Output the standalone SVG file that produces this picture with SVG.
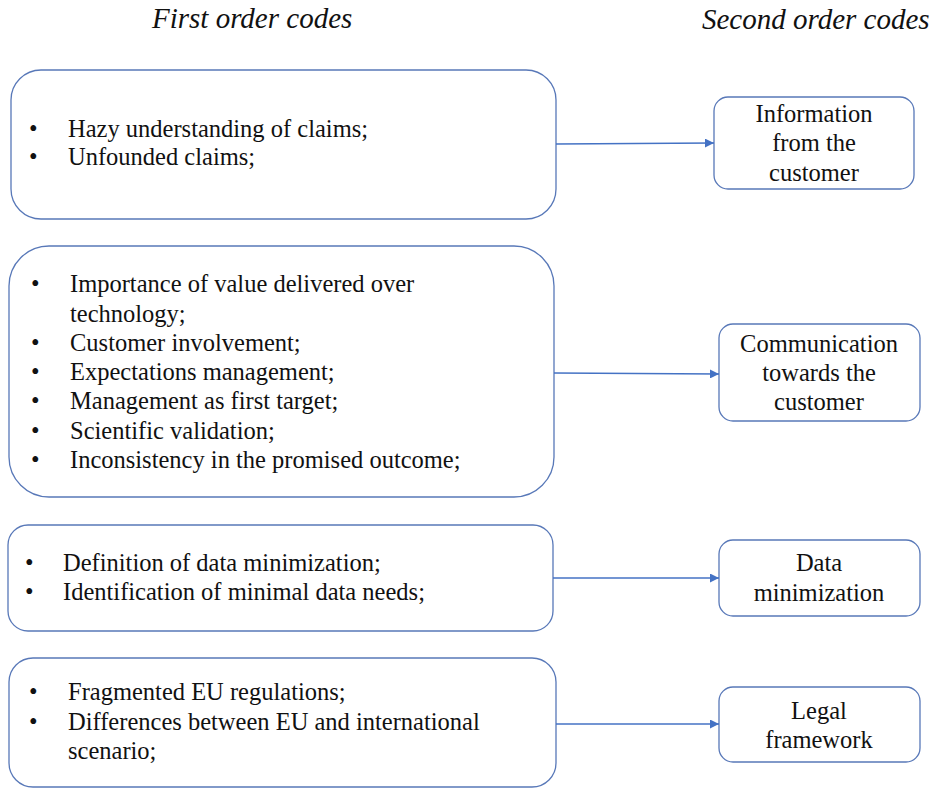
<svg xmlns="http://www.w3.org/2000/svg" width="936" height="789" viewBox="0 0 936 789">
  <style>
    .box { fill: #ffffff; stroke: #5878b8; stroke-width: 1.3; }
    .txt { font-family: 'Liberation Serif', 'Times New Roman', Tinos, serif; fill: #111111; }
    .body { font-size: 24.5px; }
    .head { font-size: 29px; font-style: italic; }
    .mid { text-anchor: middle; }
    .link { stroke: #4472c4; stroke-width: 1.3; fill: none; marker-end: url(#arr); }
  </style>
  <defs>
    <marker id="arr" viewBox="0 0 10 10" refX="10" refY="5" markerWidth="9" markerHeight="9" markerUnits="userSpaceOnUse" orient="auto">
      <path d="M0,0 L10,5 L0,10 z" fill="#4472c4"/>
    </marker>
  </defs>
  <rect width="936" height="789" fill="#ffffff"/>

  <!-- column headings -->
  <g class="txt head">
    <text x="152" y="28">First order codes</text>
    <text x="702" y="29">Second order codes</text>
  </g>

  <!-- first order code boxes -->
  <g class="txt body">
    <g id="claims">
      <rect class="box" x="11" y="70" width="545" height="149" rx="30"/>
      <text x="29" y="137">•</text>
      <text x="68" y="137">Hazy understanding of claims;</text>
      <text x="29" y="165">•</text>
      <text x="68" y="165">Unfounded claims;</text>
    </g>

    <g id="communication-items">
      <rect class="box" x="9" y="246" width="545" height="251" rx="40"/>
      <text x="31" y="292">•</text>
      <text x="70" y="292">Importance of value delivered over</text>
      <text x="70" y="322">technology;</text>
      <text x="31" y="351">•</text>
      <text x="70" y="351">Customer involvement;</text>
      <text x="31" y="380">•</text>
      <text x="70" y="380">Expectations management;</text>
      <text x="31" y="409">•</text>
      <text x="70" y="409">Management as first target;</text>
      <text x="31" y="439">•</text>
      <text x="70" y="439">Scientific validation;</text>
      <text x="31" y="468">•</text>
      <text x="70" y="468">Inconsistency in the promised outcome;</text>
    </g>

    <g id="minimization-items">
      <rect class="box" x="8" y="525" width="545" height="106" rx="20"/>
      <text x="25" y="571">•</text>
      <text x="63" y="571">Definition of data minimization;</text>
      <text x="25" y="600">•</text>
      <text x="63" y="600">Identification of minimal data needs;</text>
    </g>

    <g id="legal-items">
      <rect class="box" x="9" y="658" width="547" height="129" rx="24"/>
      <text x="29" y="700">•</text>
      <text x="68" y="700">Fragmented EU regulations;</text>
      <text x="29" y="730">•</text>
      <text x="68" y="730">Differences between EU and international</text>
      <text x="68" y="759">scenario;</text>
    </g>
  </g>

  <!-- second order code boxes -->
  <g class="txt body mid">
    <g id="information">
      <rect class="box" x="714" y="97" width="200" height="92" rx="14"/>
      <text x="814" y="122">Information</text>
      <text x="814" y="151">from the</text>
      <text x="814" y="181">customer</text>
    </g>

    <g id="communication">
      <rect class="box" x="719" y="324" width="201" height="97" rx="14"/>
      <text x="819" y="352">Communication</text>
      <text x="819" y="381">towards the</text>
      <text x="819" y="410">customer</text>
    </g>

    <g id="data-minimization">
      <rect class="box" x="719" y="540" width="201" height="76" rx="14"/>
      <text x="819" y="571">Data</text>
      <text x="819" y="601">minimization</text>
    </g>

    <g id="legal">
      <rect class="box" x="719" y="687" width="201" height="75" rx="14"/>
      <text x="819" y="719">Legal</text>
      <text x="819" y="748">framework</text>
    </g>
  </g>

  <!-- connectors -->
  <g id="connectors">
    <line class="link" x1="556" y1="144" x2="714" y2="143"/>
    <line class="link" x1="554" y1="373" x2="719" y2="374"/>
    <line class="link" x1="553" y1="578" x2="719" y2="578"/>
    <line class="link" x1="556" y1="724" x2="719" y2="724"/>
  </g>
</svg>
